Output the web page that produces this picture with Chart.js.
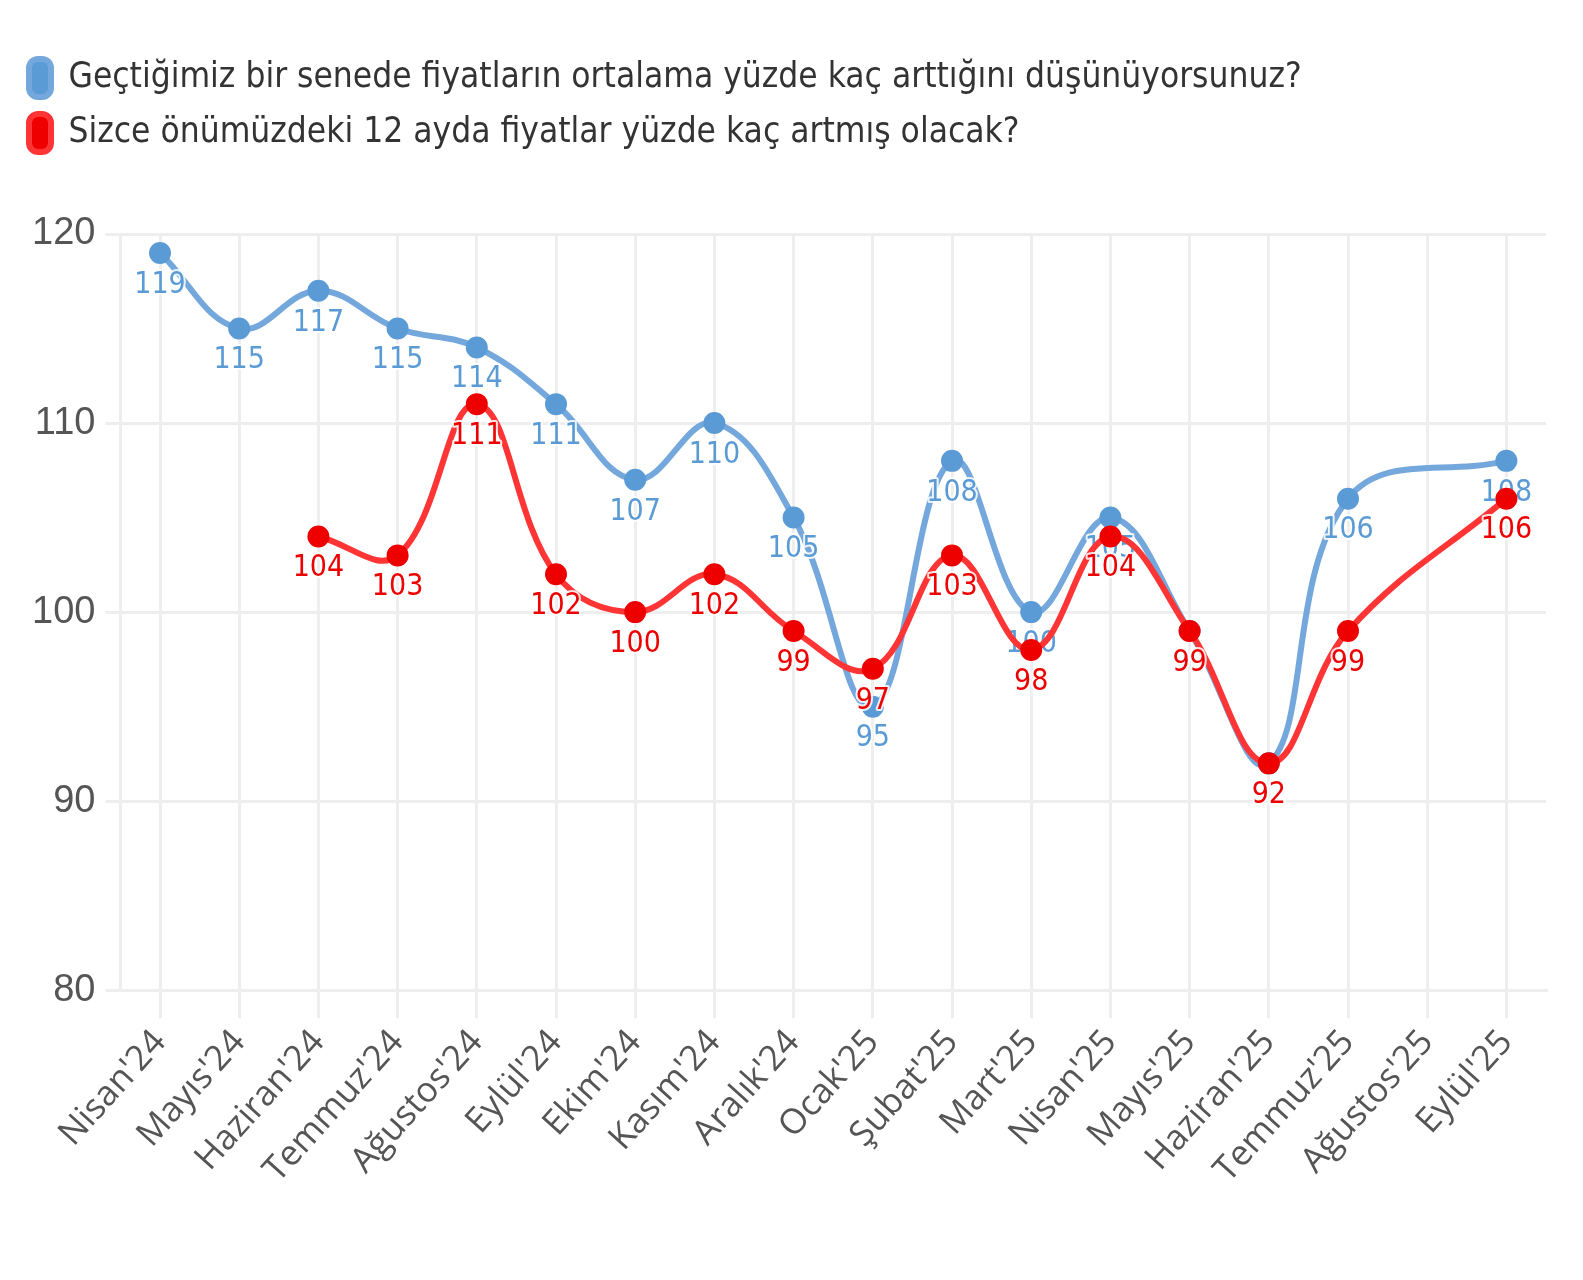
<!DOCTYPE html>
<html>
<head>
<meta charset="utf-8">
<script src="https://cdn.jsdelivr.net/npm/chart.js@4"></script>
<style>
html,body{margin:0;padding:0;background:#fff;}
#wrap{position:relative;width:1583px;height:1280px;}
</style>
</head>
<body>
<div id="wrap"><canvas id="c" width="1583" height="1280"></canvas></div>
<script>
const months = ["Nisan'24","Mayıs'24","Haziran'24","Temmuz'24","Ağustos'24","Eylül'24","Ekim'24","Kasım'24","Aralık'24","Ocak'25","Şubat'25","Mart'25","Nisan'25","Mayıs'25","Haziran'25","Temmuz'25","Ağustos'25","Eylül'25"];
const pastYear = [119,115,117,115,114,111,107,110,105,95,108,100,105,99,92,106,null,108];
const nextYear = [null,null,104,103,111,102,100,102,99,97,103,98,104,99,92,99,null,106];
const seriesNames = ["Geçtiğimiz bir senede fiyatların ortalama yüzde kaç arttığını düşünüyorsunuz?","Sizce önümüzdeki 12 ayda fiyatlar yüzde kaç artmış olacak?"];
const yTicks = [80,90,100,110,120];

const condensed = "'Liberation Sans Narrow','DejaVu Sans Condensed','Roboto Condensed','Liberation Sans',sans-serif";

const labelPlugin = {
  id: 'pointLabels',
  afterDatasetDraw(chart, args) {
    const ds = chart.data.datasets[args.index];
    const ctx = chart.ctx;
    ctx.save();
    ctx.font = "500 30px " + condensed;
    ctx.textAlign = 'center';
    ctx.textBaseline = 'middle';
    ctx.lineJoin = 'round';
    args.meta.data.forEach((pt, i) => {
      const v = ds.data[i];
      if (v == null) return;
      ctx.lineWidth = 4;
      ctx.strokeStyle = 'rgba(255,255,255,0.85)';
      ctx.strokeText(String(v), pt.x, pt.y + 32);
      ctx.fillStyle = ds.labelColor;
      ctx.fillText(String(v), pt.x, pt.y + 32);
    });
    ctx.restore();
  }
};

const legendSpacer = {
  id: 'legendSpacer',
  beforeInit(chart) {
    const origFit = chart.legend.fit;
    chart.legend.fit = function () {
      origFit.call(this);
      this.height += 72;
    };
  }
};

new Chart(document.getElementById('c'), {
  type: 'line',
  data: {
    labels: months,
    datasets: [
      {
        label: seriesNames[0],
        data: pastYear,
        borderColor: '#74a7dc',
        backgroundColor: '#5b9bd5',
        pointBackgroundColor: '#5b9bd5',
        pointBorderColor: '#5b9bd5',
        labelColor: '#5b9bd5',
        borderWidth: 6,
        pointRadius: 8,
        tension: 0.4,
        spanGaps: true,
        order: 2
      },
      {
        label: seriesNames[1],
        data: nextYear,
        borderColor: '#ff3535',
        backgroundColor: '#ee0000',
        pointBackgroundColor: '#ee0000',
        pointBorderColor: '#ee0000',
        labelColor: '#ee0000',
        borderWidth: 6,
        pointRadius: 8,
        tension: 0.4,
        spanGaps: true,
        order: 1
      }
    ]
  },
  options: {
    responsive: false,
    animation: false,
    layout: { padding: { left: 12, right: 37, top: 42, bottom: 85 } },
    plugins: {
      tooltip: { enabled: false },
      legend: {
        position: 'top',
        align: 'start',
        labels: {
          sort: (a, b) => a.datasetIndex - b.datasetIndex,
          boxWidth: 22,
          boxHeight: 38,
          useBorderRadius: true,
          borderRadius: 9,
          padding: 17,
          color: '#333',
          font: { size: 35, family: condensed }
        }
      }
    },
    scales: {
      x: {
        offset: true,
        grid: { color: '#eeeeee', lineWidth: 3, tickLength: 28, offset: false },
        border: { display: true, color: '#eeeeee', width: 3 },
        ticks: {
          color: '#555',
          maxRotation: 48,
          minRotation: 48,
          autoSkip: false,
          padding: 4,
          font: { size: 35, family: "'Open Sans','DejaVu Sans',sans-serif" }
        }
      },
      y: {
        min: 80,
        max: 120,
        afterBuildTicks: (axis) => { axis.ticks = yTicks.map(v => ({ value: v })); },
        afterFit: (axis) => { axis.width += 10; },
        grid: { color: '#eeeeee', lineWidth: 3, tickLength: 15 },
        border: { display: true, color: '#eeeeee', width: 3 },
        ticks: {
          color: '#555',
          padding: 10,
          font: { size: 38, family: "'Liberation Sans','DejaVu Sans',sans-serif" }
        }
      }
    }
  },
  plugins: [labelPlugin, legendSpacer]
});
</script>
</body>
</html>
